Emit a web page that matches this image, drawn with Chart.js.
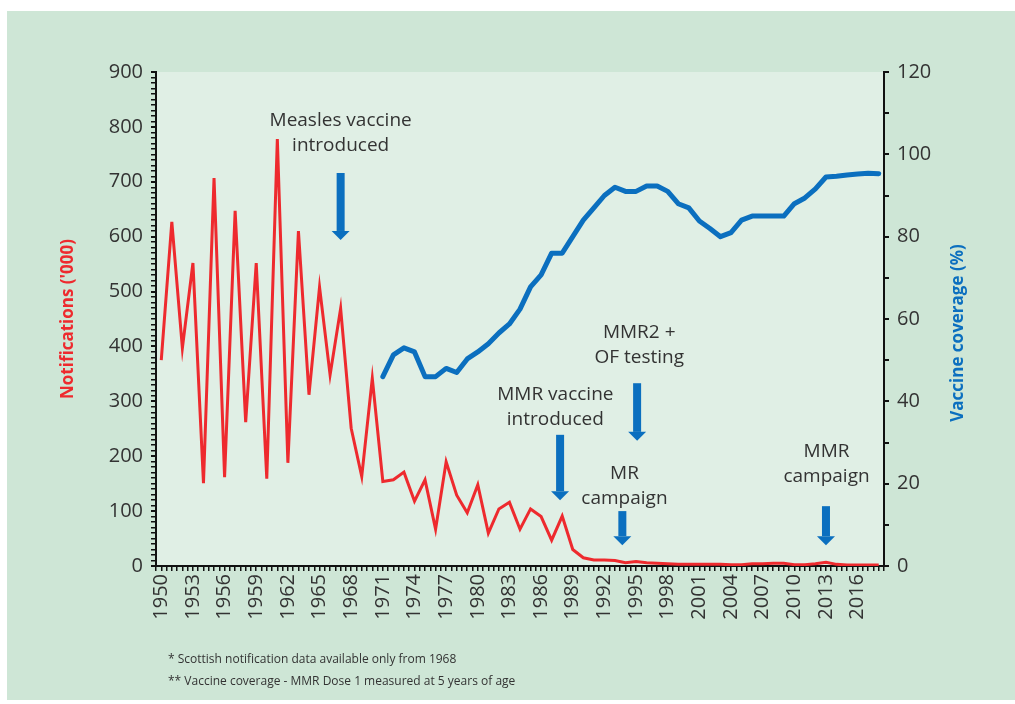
<!DOCTYPE html>
<html>
<head>
<meta charset="utf-8">
<script src="https://cdn.jsdelivr.net/npm/chart.js@4.4.0/dist/chart.umd.min.js"></script>
<style>
  body { margin: 0; background: #fff; }
  #wrap { position: relative; width: 1015px; height: 704px; }
  .note { position: absolute; left: 168px; font: 12px "Open Sans", sans-serif; color: #333; white-space: nowrap; }
</style>
</head>
<body>
<div id="wrap">
  <canvas id="measlesChart" width="1015" height="704"></canvas>
  <div class="note" style="top:650px">* Scottish notification data available only from 1968</div>
  <div class="note" style="top:672px">** Vaccine coverage - MMR Dose 1 measured at 5 years of age</div>
</div>
<script>
const years = [
  1950, 1951, 1952, 1953, 1954, 1955, 1956, 1957, 1958, 1959,
  1960, 1961, 1962, 1963, 1964, 1965, 1966, 1967, 1968, 1969,
  1970, 1971, 1972, 1973, 1974, 1975, 1976, 1977, 1978, 1979,
  1980, 1981, 1982, 1983, 1984, 1985, 1986, 1987, 1988, 1989,
  1990, 1991, 1992, 1993, 1994, 1995, 1996, 1997, 1998, 1999,
  2000, 2001, 2002, 2003, 2004, 2005, 2006, 2007, 2008, 2009,
  2010, 2011, 2012, 2013, 2014, 2015, 2016, 2017, 2018
];

// measles notifications, thousands
const notifications = [
  375, 627, 397, 552, 151, 707, 162, 647, 262, 552,
  159, 778, 188, 610, 312, 508, 348, 469, 251, 163,
  342, 154, 157, 171, 118, 157, 67, 190, 129, 97,
  148, 60, 104, 116, 67, 104, 90, 47, 91, 30,
  15, 11, 11, 10, 6, 8, 6, 5, 4, 3,
  3, 3, 3, 3, 2.5, 2.5, 4, 4, 5, 5,
  2.5, 2.5, 4, 7, 3, 2, 2, 2, 2
];

// MMR dose 1 coverage at 5 years, %
const coverage = [
  null, null, null, null, null, null, null, null, null, null,
  null, null, null, null, null, null, null, null, null, null,
  null, 46, 51.3, 53, 52, 46, 46, 48, 47, 50.3,
  52, 54, 56.6, 58.8, 62.4, 67.8, 70.7, 76, 76, 80,
  84, 87, 90, 92, 91, 91, 92.3, 92.3, 91, 88,
  87, 83.8, 82, 80, 81, 84, 85, 85, 85, 85,
  88, 89.4, 91.6, 94.5, 94.7, 95, 95.2, 95.4, 95.3
];

const yearTicks = [1950, 1953, 1956, 1959, 1962, 1965, 1968, 1971, 1974, 1977, 1980, 1983,
  1986, 1989, 1992, 1995, 1998, 2001, 2004, 2007, 2010, 2013, 2016];
const notificationTicks = [0, 100, 200, 300, 400, 500, 600, 700, 800, 900];
const coverageTicks = [0, 20, 40, 60, 80, 100, 120];

// arrows + labels, y in notification units
const annotations = [
  { lines: ['Measles vaccine', 'introduced'], textYear: 1967, textAt: 811, arrowYear: 1967, arrowFrom: 716, arrowTo: 594 },
  { lines: ['MMR vaccine', 'introduced'], textYear: 1987.35, textAt: 312, arrowYear: 1987.8, arrowFrom: 239, arrowTo: 120 },
  { lines: ['MMR2 +', 'OF testing'], textYear: 1995.3, textAt: 425, arrowYear: 1995.1, arrowFrom: 333, arrowTo: 228 },
  { lines: ['MR', 'campaign'], textYear: 1993.9, textAt: 169, arrowYear: 1993.7, arrowFrom: 100, arrowTo: 38 },
  { lines: ['MMR', 'campaign'], textYear: 2013.05, textAt: 208, arrowYear: 2013, arrowFrom: 109, arrowTo: 38 }
];

const RED = '#ee2a2e';
const BLUE = '#0b6fbf';

Chart.defaults.font.family = '"Open Sans", sans-serif';

const panelPlugin = {
  id: 'panel',
  beforeDraw(chart) {
    const { ctx, chartArea } = chart;
    ctx.save();
    ctx.fillStyle = '#fff';
    ctx.fillRect(0, 0, chart.width, chart.height);
    ctx.fillStyle = '#cee6d6';
    ctx.fillRect(7, 11, chart.width - 7, chart.height - 15);
    ctx.fillStyle = '#e0efe5';
    ctx.fillRect(chartArea.left, chartArea.top, chartArea.right - chartArea.left, chartArea.bottom - chartArea.top);
    ctx.restore();
  }
};

// right axis title reads bottom-to-top like the left one
const rightTitlePlugin = {
  id: 'rightTitle',
  afterDraw(chart) {
    const { ctx, chartArea } = chart;
    const s = chart.scales.y1;
    ctx.save();
    ctx.translate(s.right - 57, (chartArea.top + chartArea.bottom) / 2 + 14);
    ctx.rotate(-Math.PI / 2);
    ctx.font = 'bold 17px "Open Sans"';
    ctx.fillStyle = BLUE;
    ctx.textAlign = 'center';
    ctx.textBaseline = 'middle';
    ctx.fillText('Vaccine coverage (%)', 0, 0);
    ctx.restore();
  }
};

const annotationPlugin = {
  id: 'arrows',
  afterDatasetsDraw(chart) {
    const { ctx, scales: { x, y } } = chart;
    ctx.save();
    ctx.font = '19px "Open Sans"';
    ctx.textAlign = 'center';
    ctx.textBaseline = 'middle';
    annotations.forEach(a => {
      const tx = x.getPixelForValue(a.textYear);
      const ty = y.getPixelForValue(a.textAt);
      ctx.fillStyle = '#333';
      a.lines.forEach((line, i) => ctx.fillText(line, tx, ty + i * 25));

      const ax = x.getPixelForValue(a.arrowYear);
      const top = y.getPixelForValue(a.arrowFrom);
      const tip = y.getPixelForValue(a.arrowTo);
      ctx.fillStyle = BLUE;
      ctx.fillRect(ax - 4, top, 8, tip - 9 - top);
      ctx.beginPath();
      ctx.moveTo(ax - 9, tip - 9);
      ctx.lineTo(ax + 9, tip - 9);
      ctx.lineTo(ax, tip);
      ctx.closePath();
      ctx.fill();
    });
    ctx.restore();
  }
};

const tickFont = { size: 20 };
const titleFont = { size: 17, weight: 'bold' };

new Chart(document.getElementById('measlesChart'), {
  type: 'line',
  data: {
    datasets: [
      {
        label: "Notifications ('000)",
        data: years.map((yr, i) => ({ x: yr, y: notifications[i] })),
        yAxisID: 'y',
        borderColor: RED,
        borderWidth: 3,
        pointRadius: 0,
        tension: 0
      },
      {
        label: 'Vaccine coverage (%)',
        data: years.map((yr, i) => ({ x: yr, y: coverage[i] })),
        yAxisID: 'y1',
        borderColor: BLUE,
        borderWidth: 5,
        borderJoinStyle: 'round',
        borderCapStyle: 'round',
        pointRadius: 0,
        tension: 0
      }
    ]
  },
  options: {
    responsive: false,
    animation: false,
    layout: { padding: { top: 72, left: 0, right: 0, bottom: 0 } },
    plugins: {
      legend: { display: false },
      tooltip: { enabled: false }
    },
    scales: {
      x: {
        type: 'linear',
        min: 1949.5,
        max: 2018.5,
        afterFit: s => { s.height = 138; },
        ticks: {
          stepSize: 0.5,
          autoSkip: false,
          minRotation: 90,
          maxRotation: 90,
          padding: 3,
          color: '#333',
          font: tickFont,
          callback: v => (yearTicks.includes(v) ? String(v) : '')
        },
        grid: { drawOnChartArea: false, tickLength: 5, color: '#111', lineWidth: 1.5 },
        border: { color: '#111', width: 2 }
      },
      y: {
        position: 'left',
        min: 0,
        max: 900,
        afterFit: s => { s.width = 156; },
        ticks: {
          stepSize: 10,
          autoSkip: false,
          padding: 8,
          color: '#333',
          font: tickFont,
          callback: v => (notificationTicks.includes(v) ? String(v) : '')
        },
        title: {
          display: true,
          text: "Notifications ('000)",
          color: RED,
          font: titleFont,
          padding: { top: 58, bottom: 0 }
        },
        grid: {
          drawOnChartArea: false,
          tickLength: 5,
          color: '#111',
          lineWidth: c => (notificationTicks.includes(c.tick.value) ? 2 : 1.5)
        },
        border: { color: '#111', width: 2 }
      },
      y1: {
        position: 'right',
        min: 0,
        max: 120,
        afterFit: s => { s.width = 131; },
        ticks: {
          stepSize: 10,
          autoSkip: false,
          padding: 8,
          color: '#333',
          font: tickFont,
          callback: v => (coverageTicks.includes(v) ? String(v) : '')
        },
        grid: { drawOnChartArea: false, tickLength: 5, color: '#111', lineWidth: 2 },
        border: { color: '#111', width: 2 }
      }
    }
  },
  plugins: [panelPlugin, annotationPlugin, rightTitlePlugin]
});
</script>
</body>
</html>
